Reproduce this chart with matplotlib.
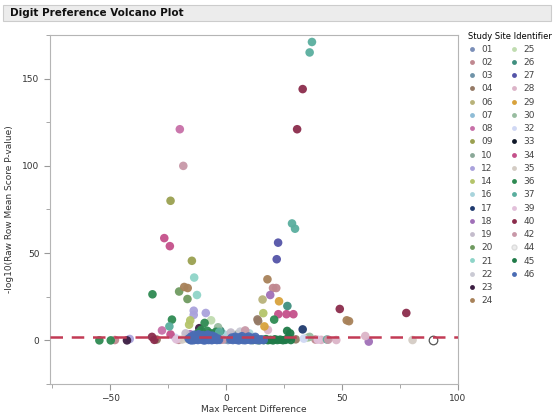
import matplotlib
matplotlib.use("Agg")
import matplotlib.pyplot as plt
from matplotlib.lines import Line2D
from matplotlib.patches import Rectangle
from matplotlib.ticker import MultipleLocator

# points per study site: (max percent difference, -log10 p)
p01 = [(-2.5, 0.3), (0.8, 0.2), (-1.2, 1.1)]
p02 = [(-48.0, 0.2), (-20.5, 0.3), (20.2, 30.0), (21.6, 30.0), (38.5, 0.5)]
p03 = [(-0.5, 0.6), (1.5, 1.2), (-13.0, 0.4)]
p04 = [(-30.0, 0.5), (13.5, 12.0), (13.8, 11.0), (30.0, 0.6)]
p06 = [(15.7, 23.4), (-17.0, 1.2)]
p07 = [(-2.0, 2.5), (3.0, 3.0)]
p08 = [(-20.0, 121.0), (-27.7, 5.7)]
p09 = [(-24.0, 80.0), (-14.8, 45.6)]
p10 = [(5.0, 3.5), (-7.0, 2.8)]
p12 = [(-41.6, 0.8), (-14.0, 17.0), (-8.8, 15.7), (-14.0, 14.6)]
p14 = [(16.0, 15.6), (-15.5, 11.5), (-16.0, 9.0)]
p16 = [(-1.0, 3.5), (10.0, 4.0)]
p17 = [(33.0, 6.3), (-9.5, 2.0)]
p18 = [(19.0, 26.0), (61.5, -0.7), (-15.5, 3.5), (-11.0, 5.0)]
p19 = [(-17.5, 4.0), (2.0, 4.5)]
p20 = [(-20.3, 28.0), (-16.7, 23.7)]
p21 = [(-13.8, 36.0), (-12.6, 26.0)]
p22 = [(6.0, 5.0), (-4.0, 5.5)]
p23 = [(-42.8, 0.0), (-11.6, 7.0)]
p24 = [(-18.1, 30.6), (-16.6, 30.0), (17.8, 35.0), (52.0, 11.5), (53.0, 11.0)]
p25 = [(-6.5, 11.5), (35.0, 1.5)]
p26 = [(26.4, 19.7), (-2.5, 5.5)]
p27 = [(22.4, 56.0), (21.8, 46.5)]
p28 = [(41.0, 0.3), (47.5, 0.2), (60.0, 2.5), (18.0, 6.0)]
p29 = [(22.8, 22.4), (16.5, 8.0)]
p30 = [(36.0, 2.0), (-3.5, 7.5)]
p32 = [(33.5, 1.0), (-22.0, 1.5)]
p33 = [(-10.5, 4.5)]
p34 = [(-26.7, 58.6), (-24.3, 54.0), (22.5, 15.0), (26.0, 15.0), (29.0, 15.0), (-24.0, 3.4)]
p35 = [(80.4, 0.2), (-19.0, 0.5)]
p36 = [(-54.7, 0.0), (-49.8, 0.0), (-31.8, 26.4), (-23.4, 11.9), (20.7, 11.9), (-9.3, 10.0),
       (-8.2, 5.5), (-6.9, 4.2), (-5.5, 3.8), (-4.4, 4.9), (-10.8, 6.0), (-12.0, 4.5)]
p37 = [(37.0, 171.0), (36.0, 165.0), (28.4, 67.0), (29.7, 64.0), (-24.5, 8.0), (-3.0, 4.8), (43.5, 0.5)]
p39 = [(39.5, 0.4), (-21.5, 0.6)]
p40 = [(33.0, 144.0), (30.6, 121.0), (49.0, 18.0), (77.7, 15.7), (-31.0, 0.3), (-32.0, 2.0)]
p42 = [(-18.5, 100.0), (-1.5, 0.4), (44.0, 0.4), (8.2, 5.7)]
p44 = [(89.0, 0.2)]
p45 = [(11.5, 0.2), (12.8, 0.6), (13.9, 0.1), (15.0, 0.4), (16.1, 0.2), (17.2, 0.7), (18.0, 0.1),
       (19.1, 0.3), (20.2, 0.0), (21.0, 0.6), (22.1, 0.2), (23.3, 0.4), (24.5, 0.1), (25.6, 0.3),
       (26.8, 1.5), (27.9, 0.2), (26.3, 5.4), (27.6, 4.0)]
p46 = [(-16.2, 1.0), (-15.6, 0.3), (-15.1, 2.2), (-14.5, 0.8), (-14.0, 0.1), (-13.6, 1.9), (-13.1, 0.6),
       (-12.5, 2.8), (-12.2, 0.2), (-11.7, 1.4), (-11.2, 0.5), (-10.8, 2.3), (-10.3, 0.9), (-9.9, 0.1),
       (-9.4, 1.7), (-8.9, 0.4), (-8.5, 2.6), (-8.0, 1.1), (-7.6, 0.2), (-7.1, 1.8), (-6.7, 0.6),
       (-6.2, 0.1), (-5.8, 1.3), (-5.3, 0.4), (-4.9, 2.0), (-4.4, 0.7), (-4.0, 0.2), (-3.5, 1.0),
       (-3.1, 0.3), (-15.0, 0.0), (-13.8, 3.2), (-11.9, 3.5), (-10.0, 3.0), (-7.9, 3.3), (-6.0, 2.7),
       (-9.2, 0.0), (1.8, 0.5), (2.4, 1.6), (2.9, 0.2), (3.5, 0.9), (3.9, 2.1), (4.4, 0.3), (4.9, 1.2),
       (5.4, 0.0), (5.9, 1.8), (6.3, 0.6), (6.8, 2.4), (7.3, 0.2), (7.8, 1.0), (8.2, 0.1), (8.7, 1.6),
       (9.2, 0.4), (9.7, 2.2), (10.1, 0.8), (10.6, 0.1), (11.1, 1.4), (11.6, 0.3), (12.0, 0.9),
       (12.6, 2.0), (13.1, 0.2), (13.7, 0.7), (14.5, 0.1), (15.3, 0.5), (16.2, 0.2)]

site_ids = ['01', '02', '03', '04', '06', '07', '08', '09', '10', '12', '14', '16', '17', '18', '19',
            '20', '21', '22', '23', '24', '25', '26', '27', '28', '29', '30', '32', '33', '34', '35',
            '36', '37', '39', '40', '42', '44', '45', '46']
site_pts = [p01, p02, p03, p04, p06, p07, p08, p09, p10, p12, p14, p16, p17, p18, p19,
            p20, p21, p22, p23, p24, p25, p26, p27, p28, p29, p30, p32, p33, p34, p35,
            p36, p37, p39, p40, p42, p44, p45, p46]
cutoff = 2.0

site_colors = ['#7b8fb8', '#c08890', '#6f93a8', '#957a66', '#b8b27a', '#8fbcd6', '#c870a8',
               '#9aa050', '#8aa898', '#aaa2dc', '#b4c46a', '#a8d4dc', '#1f3a6e', '#a070b8',
               '#c4bccc', '#6f9a60', '#8ed4c8', '#cacad4', '#3c1e42', '#a8825a', '#c0dcb0',
               '#3f8f7f', '#5454a8', '#dcb4c8', '#d8a23c', '#98bca0', '#d0d8f4', '#101828',
               '#c4508a', '#d4ccc4', '#2e8a52', '#5aae9e', '#e2c0da', '#8b2c4c', '#c898a8',
               '#f2f2f2', '#1f7a48', '#4a6cb4']

fig = plt.figure(figsize=(5.53, 4.15), dpi=100)
fig.patches.append(Rectangle((0.006, 1 - 21 / 415), 0.99, 16 / 415, transform=fig.transFigure,
                             facecolor='#ececec', edgecolor='#cccccc', lw=0.8))
fig.text(10 / 553, 1 - 13 / 415, 'Digit Preference Volcano Plot', fontsize=7.5,
         fontweight='bold', va='center', ha='left', color='#111111')

ax = fig.add_axes([50 / 553, 1 - 384 / 415, 408 / 553, 349 / 415])
for sid, pts, col in zip(site_ids, site_pts, site_colors):
    xs = [p[0] for p in pts]
    ys = [p[1] for p in pts]
    if sid == '44':
        ax.scatter(xs, ys, s=38, facecolor='white', edgecolor='#555555', lw=0.9, zorder=3)
    else:
        ax.scatter(xs, ys, s=38, color=col, edgecolor='none', alpha=0.95, zorder=3)

ax.axhline(cutoff, color='#c23b55', lw=1.8, dashes=(5, 3.5), zorder=4)

ax.set_xlim(-76, 100)
ax.set_ylim(-25, 175)
ax.xaxis.set_major_locator(MultipleLocator(50))
ax.xaxis.set_minor_locator(MultipleLocator(25))
ax.yaxis.set_major_locator(MultipleLocator(50))
ax.yaxis.set_minor_locator(MultipleLocator(25))
ax.tick_params(which='both', direction='out', color='#999999', labelsize=6.5, labelcolor='#333333')
ax.tick_params(which='major', length=4)
ax.tick_params(which='minor', length=3)
for sp in ax.spines.values():
    sp.set_color('#b5b5b5')
    sp.set_linewidth(0.8)
ax.set_xlabel('Max Percent Difference', fontsize=6.5, color='#333333', labelpad=1)
ax.set_ylabel('-log10(Raw Row Mean Score P-value)', fontsize=6.5, color='#333333', labelpad=6)

handles = [Line2D([], [], ls='none', marker='o', ms=3.5, color=c, mec='none') for c in site_colors]
labels = list(site_ids)
handles[site_ids.index('44')] = Line2D([], [], ls='none', marker='o', ms=3.5, mfc='#ececec', mec='#dddddd')
handles.append(Line2D([], [], ls='none'))
labels.append('')
fig.legend(handles, labels, loc='upper left', bbox_to_anchor=(463 / 553, 1 - 27 / 415), ncol=2,
           frameon=False, fontsize=6.5, title='Study Site Identifier', title_fontsize=6,
           handlelength=1.0, handletextpad=0.5, columnspacing=1.9, labelspacing=0.47,
           borderpad=0, alignment='left', labelcolor='#444444')

fig.savefig('out.png', dpi=100)
